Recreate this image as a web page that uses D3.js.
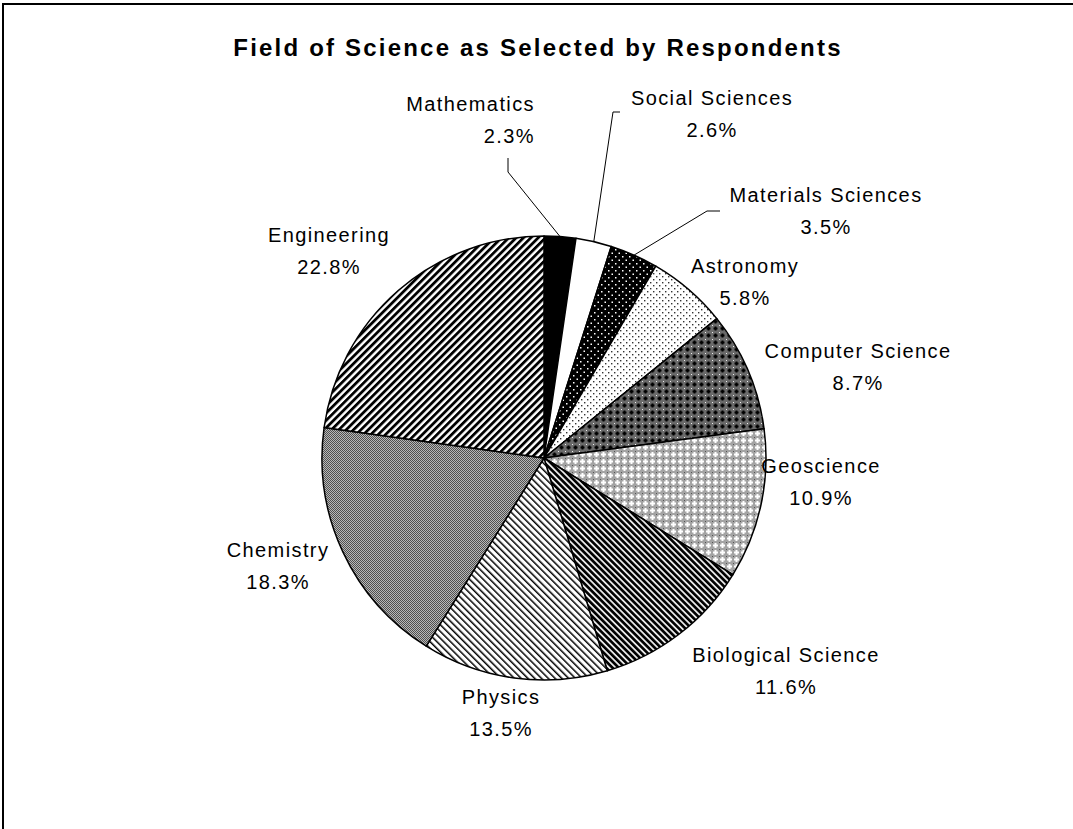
<!DOCTYPE html>
<html>
<head>
<meta charset="utf-8">
<script src="https://cdn.jsdelivr.net/npm/d3@7"></script>
<style>
  body { margin: 0; background: #fff; }
  svg { display: block; font-family: "Liberation Sans", Arial, sans-serif; }
</style>
</head>
<body>
<svg id="chart" width="1073" height="829"></svg>
<script>
// data
const fields = ['Mathematics', 'Social Sciences', 'Materials Sciences', 'Astronomy', 'Computer Science',
    'Geoscience', 'Biological Science', 'Physics', 'Chemistry', 'Engineering']
const shares = [2.3, 2.6, 3.5, 5.8, 8.7, 10.9, 11.6, 13.5, 18.3, 22.8]
const titleText = 'Field of Science as Selected by Respondents'

// label placement (anchor of the two-line label block, relative to the pie centre)
const labelOffset = [[-9, -338], [168, -344], [282, -247], [201, -176], [314, -91],
    [277, 24], [242, 213], [-43, 255], [-266, 108], [-215, -207]]
const labelAlign = ['end', 'middle', 'middle', 'middle', 'middle',
    'middle', 'middle', 'middle', 'middle', 'middle']
// leader lines: elbow and end, relative to the label anchor (null = no leader)
const leaderAt = [[[-27, 52], [-27, 38]], [[-99, -2], [-92, -2]], [[-119, 0], [-106, 0]],
    null, null, null, null, null, null, null]

const W = 1073, H = 829
const cx = 544, cy = 458, R = 222

const svg = d3.select('#chart')
const defs = svg.append('defs')

// fill patterns, one per slice
let fills = []
fills.push('#000')
fills.push('#fff')

// dark dotted
let p = defs.append('pattern').attr('id', 'pMat').attr('patternUnits', 'userSpaceOnUse')
    .attr('width', 7).attr('height', 7)
p.append('rect').attr('width', 7).attr('height', 7).attr('fill', '#000')
p.append('rect').attr('x', 1).attr('y', 1).attr('width', 1.5).attr('height', 1.5).attr('fill', '#fff')
p.append('rect').attr('x', 4.5).attr('y', 4.5).attr('width', 1.5).attr('height', 1.5).attr('fill', '#fff')
fills.push('url(#pMat)')

// light dotted
p = defs.append('pattern').attr('id', 'pAst').attr('patternUnits', 'userSpaceOnUse')
    .attr('width', 6).attr('height', 6)
p.append('rect').attr('width', 6).attr('height', 6).attr('fill', '#fff')
p.append('rect').attr('x', 1).attr('y', 1).attr('width', 1.4).attr('height', 1.4).attr('fill', '#333')
p.append('rect').attr('x', 4).attr('y', 4).attr('width', 1.4).attr('height', 1.4).attr('fill', '#333')
fills.push('url(#pAst)')

// dark lattice
p = defs.append('pattern').attr('id', 'pCS').attr('patternUnits', 'userSpaceOnUse')
    .attr('width', 7).attr('height', 7)
p.append('rect').attr('width', 7).attr('height', 7).attr('fill', '#6a6a6a')
p.append('rect').attr('x', 2.5).attr('y', 1.5).attr('width', 2).attr('height', 4).attr('fill', '#000')
p.append('rect').attr('x', 1.5).attr('y', 2.5).attr('width', 4).attr('height', 2).attr('fill', '#000')
p.append('rect').attr('x', 0).attr('y', 0).attr('width', 1).attr('height', 1).attr('fill', '#eee')
fills.push('url(#pCS)')

// light lattice
p = defs.append('pattern').attr('id', 'pGeo').attr('patternUnits', 'userSpaceOnUse')
    .attr('width', 7).attr('height', 7)
p.append('rect').attr('width', 7).attr('height', 7).attr('fill', '#a4a4a4')
p.append('rect').attr('x', 2.5).attr('y', 1).attr('width', 2).attr('height', 5).attr('fill', '#fff')
p.append('rect').attr('x', 1).attr('y', 2.5).attr('width', 5).attr('height', 2).attr('fill', '#fff')
p.append('rect').attr('x', 0).attr('y', 0).attr('width', 1).attr('height', 1).attr('fill', '#555')
fills.push('url(#pGeo)')

// stripes helper
let stripes = function (id, period, dark, bg, angle) {
    let s = defs.append('pattern').attr('id', id).attr('patternUnits', 'userSpaceOnUse')
        .attr('width', period).attr('height', period)
        .attr('patternTransform', 'rotate(' + angle + ')')
    s.append('rect').attr('width', period).attr('height', period).attr('fill', bg)
    s.append('rect').attr('width', dark).attr('height', period).attr('fill', '#000')
    return 'url(#' + id + ')'
}
fills.push(stripes('pBio', 4.4, 2.6, '#e8e8e8', -45))
fills.push(stripes('pPhy', 4.8, 1.5, '#fff', -45))

// fine checker
p = defs.append('pattern').attr('id', 'pChem').attr('patternUnits', 'userSpaceOnUse')
    .attr('width', 2).attr('height', 2)
p.append('rect').attr('width', 2).attr('height', 2).attr('fill', '#b8b8b8')
p.append('rect').attr('width', 1).attr('height', 1).attr('fill', '#505050')
p.append('rect').attr('x', 1).attr('y', 1).attr('width', 1).attr('height', 1).attr('fill', '#505050')
fills.push('url(#pChem)')

fills.push(stripes('pEng', 5.2, 2.8, '#fff', 45))

// frame
svg.append('rect')
    .attr('x', 3).attr('y', 4)
    .attr('width', W + 10).attr('height', H + 10)
    .attr('fill', 'none')
    .attr('stroke', '#000')
    .attr('stroke-width', 2)

svg.append('text')
    .attr('x', 538).attr('y', 56)
    .attr('text-anchor', 'middle')
    .attr('font-size', 24)
    .attr('font-weight', 'bold')
    .attr('letter-spacing', 2.2)
    .text(titleText)

const rows = fields.map((f, i) => ({ field: f, share: shares[i], i: i }))

const pie = d3.pie().sort(null).value(d => d.share)
const arc = d3.arc().innerRadius(0).outerRadius(R)
const arcs = pie(rows)

const g = svg.append('g').attr('transform', `translate(${cx},${cy})`)

g.selectAll('path.slice')
    .data(arcs)
    .enter()
    .append('path')
    .attr('class', 'slice')
    .attr('d', arc)
    .attr('fill', d => fills[d.data.i])
    .attr('stroke', '#000')
    .attr('stroke-width', 1.5)
    .attr('stroke-linejoin', 'round')

// leader lines from the slice edge to the label
g.selectAll('polyline.leader')
    .data(arcs.filter(d => leaderAt[d.data.i]))
    .enter()
    .append('polyline')
    .attr('class', 'leader')
    .attr('points', d => {
        let mid = (d.startAngle + d.endAngle) / 2
        let edge = [R * Math.sin(mid), -R * Math.cos(mid)]
        let off = labelOffset[d.data.i]
        let lk = leaderAt[d.data.i]
        let elbow = [off[0] + lk[0][0], off[1] + lk[0][1]]
        let end = [off[0] + lk[1][0], off[1] + lk[1][1]]
        return [edge, elbow, end].map(q => q.join(',')).join(' ')
    })
    .attr('fill', 'none')
    .attr('stroke', '#000')
    .attr('stroke-width', 1)

const labels = g.selectAll('g.label')
    .data(arcs)
    .enter()
    .append('g')
    .attr('class', 'label')
    .attr('transform', d => `translate(${labelOffset[d.data.i][0]},${labelOffset[d.data.i][1]})`)

labels.append('text')
    .attr('y', -16)
    .attr('dy', '0.35em')
    .attr('text-anchor', d => labelAlign[d.data.i])
    .attr('font-size', 20)
    .attr('letter-spacing', 1.4)
    .text(d => d.data.field)

labels.append('text')
    .attr('y', 16)
    .attr('dy', '0.35em')
    .attr('text-anchor', d => labelAlign[d.data.i])
    .attr('font-size', 20)
    .attr('letter-spacing', 1.4)
    .text(d => d3.format('.1f')(d.data.share) + '%')
</script>
</body>
</html>
